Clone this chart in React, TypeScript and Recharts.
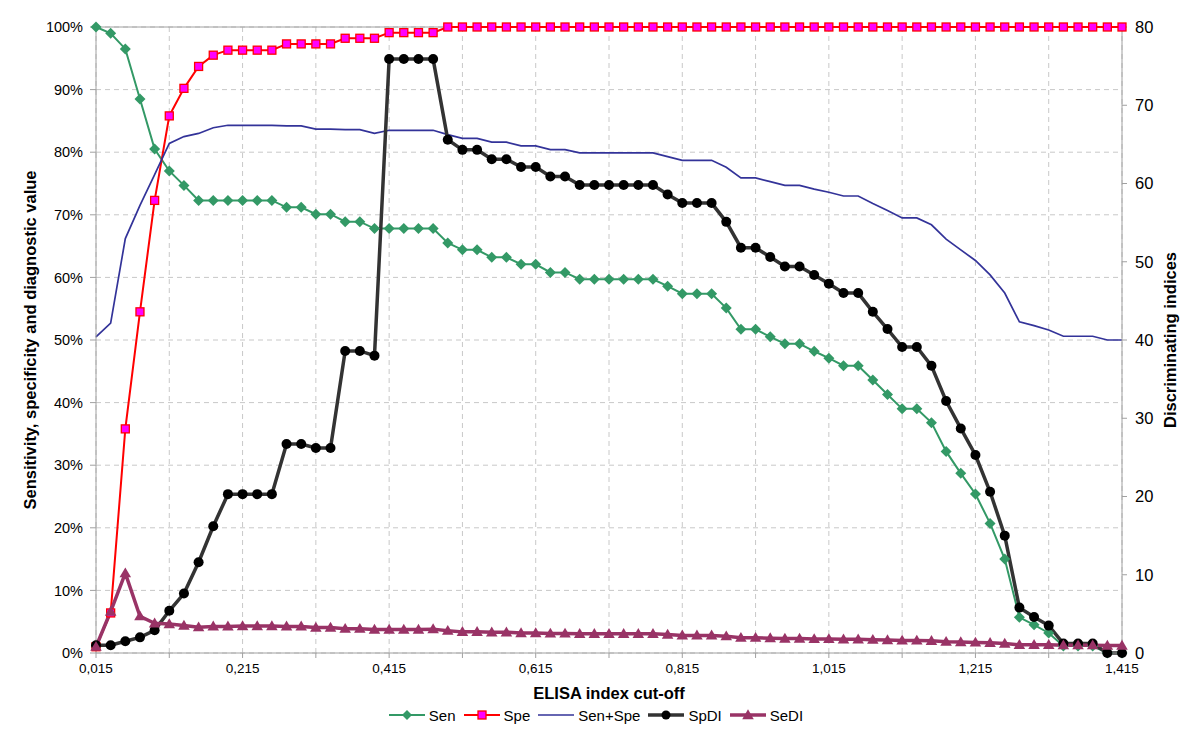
import {
  CartesianGrid,
  ComposedChart,
  Legend,
  Line,
  ReferenceLine,
  XAxis,
  YAxis,
} from 'recharts'

// ELISA index cut-off values (x axis)
const CUTOFFS = [
  0.015, 0.035, 0.055, 0.075, 0.095, 0.115, 0.135, 0.155, 0.175, 0.195,
  0.215, 0.235, 0.255, 0.275, 0.295, 0.315, 0.335, 0.355, 0.375, 0.395,
  0.415, 0.435, 0.455, 0.475, 0.495, 0.515, 0.535, 0.555, 0.575, 0.595,
  0.615, 0.635, 0.655, 0.675, 0.695, 0.715, 0.735, 0.755, 0.775, 0.795,
  0.815, 0.835, 0.855, 0.875, 0.895, 0.915, 0.935, 0.955, 0.975, 0.995,
  1.015, 1.035, 1.055, 1.075, 1.095, 1.115, 1.135, 1.155, 1.175, 1.195,
  1.215, 1.235, 1.255, 1.275, 1.295, 1.315, 1.335, 1.355, 1.375, 1.395,
  1.415,
]

// left axis, percent
const SEN = [
  100, 99, 96.5, 88.5, 80.5, 77, 74.7, 72.3, 72.3, 72.3,
  72.3, 72.3, 72.3, 71.2, 71.2, 70.1, 70.1, 68.9, 68.9, 67.8,
  67.8, 67.8, 67.8, 67.8, 65.5, 64.4, 64.4, 63.2, 63.2, 62.1,
  62.1, 60.8, 60.8, 59.7, 59.7, 59.7, 59.7, 59.7, 59.7, 58.6,
  57.4, 57.4, 57.4, 55.1, 51.7, 51.7, 50.5, 49.4, 49.4, 48.2,
  47.1, 45.9, 45.9, 43.6, 41.3, 39.0, 39.0, 36.8, 32.2, 28.7,
  25.4, 20.7, 15.0, 5.7, 4.5, 3.2, 1.1, 1.1, 1.1, 0,
  0,
]
const SPE = [
  1, 6.4, 35.8, 54.5, 72.3, 85.8, 90.2, 93.7, 95.5, 96.3,
  96.3, 96.3, 96.3, 97.3, 97.3, 97.3, 97.3, 98.2, 98.2, 98.2,
  99.1, 99.1, 99.1, 99.1, 100, 100, 100, 100, 100, 100,
  100, 100, 100, 100, 100, 100, 100, 100, 100, 100,
  100, 100, 100, 100, 100, 100, 100, 100, 100, 100,
  100, 100, 100, 100, 100, 100, 100, 100, 100, 100,
  100, 100, 100, 100, 100, 100, 100, 100, 100, 100,
  100,
]
const SEN_SPE = [
  50.5, 52.7, 66.2, 71.5, 76.4, 81.4, 82.5, 83.0, 83.9, 84.3,
  84.3, 84.3, 84.3, 84.2, 84.2, 83.7, 83.7, 83.6, 83.6, 83.0,
  83.5, 83.5, 83.5, 83.5, 82.8, 82.2, 82.2, 81.6, 81.6, 81.0,
  81.0, 80.4, 80.4, 79.9, 79.9, 79.9, 79.9, 79.9, 79.9, 79.3,
  78.7, 78.7, 78.7, 77.6, 75.9, 75.9, 75.3, 74.7, 74.7, 74.1,
  73.6, 73.0, 73.0, 71.8, 70.7, 69.5, 69.5, 68.4, 66.1, 64.4,
  62.7, 60.4, 57.5, 52.9, 52.3, 51.6, 50.6, 50.6, 50.6, 50,
  50,
]

// right axis, discriminating indices
const SPDI = [
  1.0, 1.0, 1.5, 2.0, 2.9, 5.4, 7.6, 11.6, 16.2, 20.3,
  20.3, 20.3, 20.3, 26.7, 26.7, 26.2, 26.2, 38.6, 38.6, 38.0,
  75.9, 75.9, 75.9, 75.9, 65.6, 64.3, 64.3, 63.1, 63.1, 62.1,
  62.1, 60.9, 60.9, 59.8, 59.8, 59.8, 59.8, 59.8, 59.8, 58.6,
  57.5, 57.5, 57.5, 55.1, 51.8, 51.8, 50.6, 49.4, 49.4, 48.3,
  47.2, 46.0, 46.0, 43.6, 41.4, 39.1, 39.1, 36.7, 32.2, 28.7,
  25.3, 20.6, 15.0, 5.8, 4.6, 3.5, 1.2, 1.2, 1.2, 0,
  0,
]
const SEDI = [
  0.8, 5.3, 10.2, 4.7, 3.8, 3.7, 3.5, 3.3, 3.4, 3.4,
  3.45, 3.45, 3.45, 3.4, 3.4, 3.25, 3.25, 3.1, 3.1, 3.0,
  3.0, 3.0, 3.0, 3.05, 2.85, 2.7, 2.7, 2.65, 2.65, 2.55,
  2.55, 2.5, 2.5, 2.45, 2.45, 2.45, 2.45, 2.45, 2.45, 2.35,
  2.25, 2.25, 2.25, 2.15, 1.95, 1.95, 1.9, 1.85, 1.85, 1.8,
  1.8, 1.75, 1.75, 1.7, 1.65, 1.6, 1.6, 1.55, 1.45, 1.4,
  1.35, 1.3, 1.2, 1.05, 1.05, 1.05, 1.0, 1.0, 1.0, 0.95,
  0.95,
]

const X_TICKS = [
  0.015, 0.115, 0.215, 0.315, 0.415, 0.515, 0.615, 0.715,
  0.815, 0.915, 1.015, 1.115, 1.215, 1.315, 1.415,
]
const LEFT_TICKS = [0, 10, 20, 30, 40, 50, 60, 70, 80, 90, 100]
const RIGHT_TICKS = [0, 10, 20, 30, 40, 50, 60, 70, 80]

const rows = CUTOFFS.map((cutoff, i) => ({
  cutoff,
  sen: SEN[i],
  spe: SPE[i],
  senSpe: SEN_SPE[i],
  spdi: SPDI[i],
  sedi: SEDI[i],
}))

const FONT = '"Liberation Sans", Arial, sans-serif'
const GREEN = '#339966'
const RED = '#ff0000'
const MAGENTA = '#ff00ff'
const NAVY = '#333399'
const DARK = '#333333'
const PLUM = '#993366'
const AXIS = '#a0a0a0'
const GRID = '#c8c8c8'

const diamond = (cx: number, cy: number, r: number) =>
  `M${cx},${cy - r}L${cx + r},${cy}L${cx},${cy + r}L${cx - r},${cy}Z`
const triangle = (cx: number, cy: number, r: number) =>
  `M${cx},${cy - r * 1.05}L${cx + r * 1.05},${cy + r * 0.75}L${cx - r * 1.05},${cy + r * 0.75}Z`

// dot renderers for the markers Excel used
const renderDiamond = (p: any) =>
  p.cx == null ? <g key={p.index} /> : <path key={p.index} d={diamond(p.cx, p.cy, 5.5)} fill={GREEN} />
const renderSquare = (p: any) =>
  p.cx == null ? (
    <g key={p.index} />
  ) : (
    <rect key={p.index} x={p.cx - 4} y={p.cy - 4} width={8} height={8} fill={MAGENTA} stroke={RED} strokeWidth={1.3} />
  )
const renderCircle = (p: any) =>
  p.cx == null ? <g key={p.index} /> : <circle key={p.index} cx={p.cx} cy={p.cy} r={5} fill="#000" />
const renderTriangle = (p: any) =>
  p.cx == null ? <g key={p.index} /> : <path key={p.index} d={triangle(p.cx, p.cy, 5.5)} fill={PLUM} />

const LEGEND_ITEMS = [
  { name: 'Sen', color: GREEN, width: 2, marker: 'diamond' },
  { name: 'Spe', color: RED, width: 2, marker: 'square' },
  { name: 'Sen+Spe', color: NAVY, width: 1.7, marker: 'none' },
  { name: 'SpDI', color: DARK, width: 3.5, marker: 'circle' },
  { name: 'SeDI', color: PLUM, width: 3.5, marker: 'triangle' },
]

function LegendIcon({ color, width, marker }: { color: string; width: number; marker: string }) {
  return (
    <svg width={36} height={14} style={{ marginRight: 4 }}>
      <line x1={0} y1={7} x2={36} y2={7} stroke={color} strokeWidth={width} />
      {marker === 'diamond' && <path d={diamond(18, 7, 5)} fill={GREEN} />}
      {marker === 'square' && (
        <rect x={14} y={3} width={8} height={8} fill={MAGENTA} stroke={RED} strokeWidth={1.3} />
      )}
      {marker === 'circle' && <circle cx={18} cy={7} r={4.5} fill="#000" />}
      {marker === 'triangle' && <path d={triangle(18, 7, 5.5)} fill={PLUM} />}
    </svg>
  )
}

function ChartLegend() {
  return (
    <div
      style={{
        display: 'flex',
        justifyContent: 'center',
        alignItems: 'center',
        fontFamily: FONT,
        fontSize: 15,
        color: '#000',
        height: 24,
      }}
    >
      {LEGEND_ITEMS.map((item) => (
        <div key={item.name} style={{ display: 'flex', alignItems: 'center', marginRight: 8 }}>
          <LegendIcon color={item.color} width={item.width} marker={item.marker} />
          <span>{item.name}</span>
        </div>
      ))}
    </div>
  )
}

const formatCutoff = (v: number, i: number) => (i % 2 === 0 ? v.toFixed(3).replace('.', ',') : '')

export default function App() {
  return (
    <div style={{ position: 'absolute', left: 0, top: 0, width: 1200, height: 749, background: '#fff' }}>
      <ComposedChart
        width={1200}
        height={749}
        data={rows}
        margin={{ top: 27, right: 0, left: 0, bottom: 22 }}
      >
        <CartesianGrid yAxisId="left" stroke={GRID} strokeDasharray="5 4" />
        <XAxis
          type="number"
          dataKey="cutoff"
          domain={[0.015, 1.415]}
          ticks={X_TICKS}
          interval={0}
          tickFormatter={formatCutoff}
          height={50}
          tickSize={5}
          tickMargin={5}
          stroke={AXIS}
          tick={{ fill: '#000', fontSize: 13.5, fontFamily: FONT }}
          label={{
            value: 'ELISA index cut-off',
            position: 'insideBottom',
            offset: 4,
            style: { fontFamily: FONT, fontSize: 16.5, fontWeight: 700, fill: '#000' },
          }}
        />
        <YAxis
          yAxisId="left"
          domain={[0, 100]}
          ticks={LEFT_TICKS}
          interval={0}
          width={96}
          tickSize={6}
          tickMargin={7}
          stroke={AXIS}
          tickFormatter={(v: number) => `${v}%`}
          tick={{ fill: '#000', fontSize: 14.5, fontFamily: FONT }}
          label={{
            value: 'Sensitivity, specificity and diagnostic value',
            angle: -90,
            position: 'insideLeft',
            offset: 30,
            style: { textAnchor: 'middle', fontFamily: FONT, fontSize: 16.5, fontWeight: 700, fill: '#000' },
          }}
        />
        <YAxis
          yAxisId="right"
          orientation="right"
          domain={[0, 80]}
          ticks={RIGHT_TICKS}
          interval={0}
          width={78}
          tickSize={5}
          tickMargin={8}
          stroke={AXIS}
          tick={{ fill: '#000', fontSize: 16.5, fontFamily: FONT }}
          label={{
            value: 'Discriminating indices',
            angle: -90,
            position: 'insideRight',
            offset: 30,
            style: { textAnchor: 'middle', fontFamily: FONT, fontSize: 16.5, fontWeight: 700, fill: '#000' },
          }}
        />
        {/* plot-area top border */}
        <ReferenceLine yAxisId="left" y={100} stroke={AXIS} />
        <Legend verticalAlign="bottom" height={24} content={() => <ChartLegend />} />
        <Line yAxisId="left" dataKey="sen" name="Sen" stroke={GREEN} strokeWidth={2} dot={renderDiamond} activeDot={false} isAnimationActive={false} />
        <Line yAxisId="left" dataKey="spe" name="Spe" stroke={RED} strokeWidth={2} dot={renderSquare} activeDot={false} isAnimationActive={false} />
        <Line yAxisId="left" dataKey="senSpe" name="Sen+Spe" stroke={NAVY} strokeWidth={1.7} dot={false} activeDot={false} isAnimationActive={false} />
        <Line yAxisId="right" dataKey="spdi" name="SpDI" stroke={DARK} strokeWidth={3.5} dot={renderCircle} activeDot={false} isAnimationActive={false} />
        <Line yAxisId="right" dataKey="sedi" name="SeDI" stroke={PLUM} strokeWidth={3.5} dot={renderTriangle} activeDot={false} isAnimationActive={false} />
      </ComposedChart>
    </div>
  )
}
